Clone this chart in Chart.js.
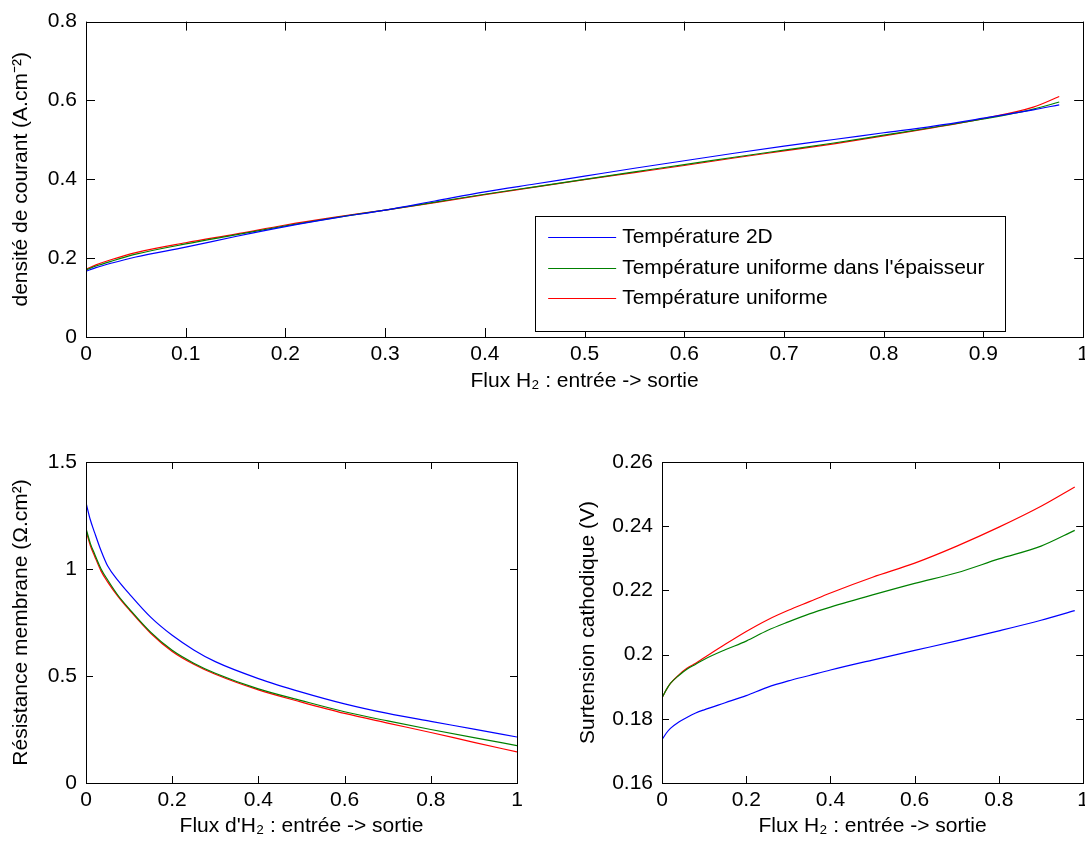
<!DOCTYPE html>
<html>
<head>
<meta charset="utf-8">
<script src="https://cdn.jsdelivr.net/npm/chart.js@4/dist/chart.umd.min.js"></script>
<style>
  html, body { margin: 0; padding: 0; background: #fff; overflow: hidden; }
  #page { position: relative; width: 1085px; height: 849px; overflow: hidden; }
  .panel { position: absolute; }
</style>
</head>
<body>
<div id="page">
  <div class="panel" style="left:0;top:0;width:1094px;height:400px"><canvas id="chartTop"></canvas></div>
  <div class="panel" style="left:0;top:430px;width:545px;height:419px"><canvas id="chartRes"></canvas></div>
  <div class="panel" style="left:545px;top:430px;width:549px;height:419px"><canvas id="chartSurt"></canvas></div>
</div>
<script>
// ---- densité de courant (haut) ----
const topX = [0, 0.01, 0.025, 0.05, 0.1, 0.15, 0.2, 0.25, 0.3, 0.35, 0.4, 0.45, 0.5, 0.55, 0.6, 0.65, 0.7, 0.75, 0.8, 0.85, 0.9, 0.95, 0.976];
const topBlue = [0.167, 0.176, 0.187, 0.203, 0.228, 0.255, 0.280, 0.302, 0.322, 0.345, 0.368, 0.388, 0.408, 0.428, 0.447, 0.466, 0.484, 0.501, 0.518, 0.535, 0.555, 0.576, 0.589];
const topGreen = [0.170, 0.180, 0.192, 0.210, 0.236, 0.259, 0.282, 0.303, 0.322, 0.342, 0.362, 0.381, 0.400, 0.419, 0.437, 0.456, 0.474, 0.492, 0.512, 0.532, 0.553, 0.578, 0.596];
const topRed = [0.172, 0.183, 0.196, 0.214, 0.239, 0.261, 0.284, 0.304, 0.322, 0.341, 0.361, 0.380, 0.399, 0.417, 0.435, 0.454, 0.472, 0.490, 0.510, 0.531, 0.554, 0.583, 0.610];
const topXTicks = [0, 0.1, 0.2, 0.3, 0.4, 0.5, 0.6, 0.7, 0.8, 0.9, 1];
const topXLabels = ['0', '0.1', '0.2', '0.3', '0.4', '0.5', '0.6', '0.7', '0.8', '0.9', '1'];
const topYTicks = [0, 0.2, 0.4, 0.6, 0.8];
const topYLabels = ['0', '0.2', '0.4', '0.6', '0.8'];

// ---- résistance membrane (bas gauche) ----
const resX = [0, 0.01, 0.02, 0.035, 0.05, 0.075, 0.1, 0.15, 0.2, 0.25, 0.3, 0.4, 0.5, 0.6, 0.7, 0.8, 0.9, 1.0];
const resBlue = [1.31, 1.23, 1.17, 1.085, 1.015, 0.945, 0.885, 0.775, 0.69, 0.622, 0.567, 0.488, 0.425, 0.37, 0.325, 0.288, 0.252, 0.215];
const resGreen = [1.19, 1.12, 1.07, 1.00, 0.95, 0.875, 0.815, 0.705, 0.62, 0.56, 0.513, 0.44, 0.385, 0.333, 0.29, 0.25, 0.212, 0.175];
const resRed = [1.18, 1.11, 1.06, 0.99, 0.94, 0.87, 0.81, 0.70, 0.615, 0.555, 0.508, 0.435, 0.378, 0.325, 0.28, 0.236, 0.19, 0.145];
const resXTicks = [0, 0.2, 0.4, 0.6, 0.8, 1];
const resXLabels = ['0', '0.2', '0.4', '0.6', '0.8', '1'];
const resYTicks = [0, 0.5, 1, 1.5];
const resYLabels = ['0', '0.5', '1', '1.5'];

// ---- surtension cathodique (bas droite) ----
const surtX = [0, 0.01, 0.02, 0.04, 0.06, 0.08, 0.1, 0.15, 0.2, 0.25, 0.3, 0.35, 0.4, 0.5, 0.6, 0.7, 0.8, 0.9, 0.98];
const surtBlue = [0.1735, 0.1755, 0.1770, 0.1790, 0.1805, 0.1818, 0.1828, 0.1850, 0.1872, 0.1898, 0.1918, 0.1935, 0.1952, 0.1983, 0.2013, 0.2043, 0.2074, 0.2107, 0.2137];
const surtGreen = [0.1865, 0.1890, 0.1910, 0.1935, 0.1955, 0.1970, 0.1985, 0.2015, 0.2042, 0.2075, 0.2102, 0.2127, 0.2148, 0.2186, 0.2222, 0.2255, 0.2298, 0.2338, 0.2387];
const surtRed = [0.1865, 0.1890, 0.1910, 0.1937, 0.1958, 0.1973, 0.1990, 0.2032, 0.2072, 0.2108, 0.2138, 0.2165, 0.2192, 0.2241, 0.2285, 0.2338, 0.2397, 0.2462, 0.2522];
const surtXTicks = [0, 0.2, 0.4, 0.6, 0.8, 1];
const surtXLabels = ['0', '0.2', '0.4', '0.6', '0.8', '1'];
const surtYTicks = [0.16, 0.18, 0.2, 0.22, 0.24, 0.26];
const surtYLabels = ['0.16', '0.18', '0.2', '0.22', '0.24', '0.26'];

const seriesNames = ['Température 2D', "Température uniforme dans l'épaisseur", 'Température uniforme'];
const seriesColors = ['#0000ff', '#008000', '#ff0000'];

const FONT = { family: '"Liberation Sans", Arial, sans-serif', size: 21 };
Chart.defaults.color = '#000';
Chart.defaults.font.family = FONT.family;
Chart.defaults.font.size = FONT.size;

// cadre + graduations vers l'intérieur, façon MATLAB
const matlabAxes = {
  id: 'matlabAxes',
  afterDatasetsDraw(chart, args, opts) {
    const { ctx, chartArea: a, scales: { x, y } } = chart;
    const L = opts.tickLength || 8;
    ctx.save();
    ctx.strokeStyle = '#000';
    ctx.lineWidth = 1;
    ctx.beginPath();
    x.ticks.forEach((t) => {
      const px = Math.round(x.getPixelForValue(t.value)) + 0.5;
      ctx.moveTo(px, a.bottom); ctx.lineTo(px, a.bottom - L);
      ctx.moveTo(px, a.top); ctx.lineTo(px, a.top + L);
    });
    y.ticks.forEach((t) => {
      const py = Math.round(y.getPixelForValue(t.value)) + 0.5;
      ctx.moveTo(a.left, py); ctx.lineTo(a.left + L, py);
      ctx.moveTo(a.right, py); ctx.lineTo(a.right - L, py);
    });
    ctx.stroke();
    ctx.strokeRect(Math.round(a.left) + 0.5, Math.round(a.top) + 0.5, Math.round(a.width), Math.round(a.height));
    ctx.restore();
  },
};

// légende encadrée dans la zone de tracé
const boxLegend = {
  id: 'boxLegend',
  afterDraw(chart, args, opts) {
    if (!opts.display) return;
    const { ctx, chartArea: a } = chart;
    const left = a.right - opts.right - opts.width;
    const top = a.bottom - opts.bottom - opts.height;
    ctx.save();
    ctx.fillStyle = '#fff';
    ctx.fillRect(left, top, opts.width, opts.height);
    ctx.strokeStyle = '#000';
    ctx.lineWidth = 1;
    ctx.strokeRect(Math.round(left) + 0.5, Math.round(top) + 0.5, opts.width, opts.height);
    ctx.font = `${FONT.size}px ${FONT.family}`;
    ctx.textBaseline = 'middle';
    chart.data.datasets.forEach((ds, i) => {
      const yy = Math.round(top + opts.firstRow + i * opts.rowGap) + 0.5;
      ctx.strokeStyle = ds.borderColor;
      ctx.beginPath();
      ctx.moveTo(left + 13, yy);
      ctx.lineTo(left + 81, yy);
      ctx.stroke();
      ctx.fillStyle = '#000';
      ctx.fillText(ds.label, left + 87, yy);
    });
    ctx.restore();
  },
};

function makeSeries(xs, ys) {
  return xs.map((v, i) => ({ x: v, y: ys[i] }));
}

function buildChart(id, cfg) {
  const datasets = cfg.series.map((ys, i) => ({
    label: seriesNames[i],
    data: makeSeries(cfg.xs, ys),
    borderColor: seriesColors[i],
    backgroundColor: seriesColors[i],
    borderWidth: 1.2,
    pointRadius: 0,
    cubicInterpolationMode: 'monotone',
  }));

  return new Chart(document.getElementById(id), {
    type: 'line',
    data: { datasets },
    plugins: [matlabAxes, boxLegend],
    options: {
      responsive: true,
      maintainAspectRatio: false,
      animation: false,
      events: [],
      layout: { padding: cfg.padding },
      plugins: {
        legend: { display: false },
        tooltip: { enabled: false },
        matlabAxes: { tickLength: cfg.tickLength },
        boxLegend: cfg.legend || { display: false },
      },
      scales: {
        x: {
          type: 'linear',
          min: cfg.xTicks[0],
          max: cfg.xTicks[cfg.xTicks.length - 1],
          grid: { display: false, drawTicks: false },
          border: { display: false },
          afterBuildTicks: (s) => { s.ticks = cfg.xTicks.map((v) => ({ value: v })); },
          afterFit: (s) => { s.height = cfg.xHeight; },
          ticks: {
            autoSkip: false,
            maxRotation: 0,
            padding: 5,
            callback: (v, i) => cfg.xLabels[i],
          },
          title: { display: true, text: cfg.xTitle, padding: { top: 0, bottom: 0 } },
        },
        y: {
          type: 'linear',
          min: cfg.yTicks[0],
          max: cfg.yTicks[cfg.yTicks.length - 1],
          grid: { display: false, drawTicks: false },
          border: { display: false },
          afterBuildTicks: (s) => { s.ticks = cfg.yTicks.map((v) => ({ value: v })); },
          afterFit: (s) => { s.width = cfg.yWidth; },
          ticks: {
            autoSkip: false,
            padding: 9,
            callback: (v, i) => cfg.yLabels[i],
          },
          title: { display: true, text: cfg.yTitle, padding: { top: cfg.yTitlePad, bottom: 0 } },
        },
      },
    },
  });
}

buildChart('chartTop', {
  xs: topX,
  series: [topBlue, topGreen, topRed],
  xTicks: topXTicks, xLabels: topXLabels,
  yTicks: topYTicks, yLabels: topYLabels,
  xTitle: 'Flux H\u2082 : entrée -> sortie',
  yTitle: 'densité de courant (A.cm\u207B\u00B2)',
  padding: { left: 0, top: 18, right: 2, bottom: 6 },
  xHeight: 57, yWidth: 86, yTitlePad: 9, tickLength: 9,
  legend: { display: true, width: 470, height: 115, right: 78, bottom: 6, firstRow: 21, rowGap: 30.5 },
});

buildChart('chartRes', {
  xs: resX,
  series: [resBlue, resGreen, resRed],
  xTicks: resXTicks, xLabels: resXLabels,
  yTicks: resYTicks, yLabels: resYLabels,
  xTitle: "Flux d'H\u2082 : entrée -> sortie",
  yTitle: 'Résistance membrane (\u03A9.cm\u00B2)',
  padding: { left: 0, top: 32, right: 28, bottom: 10 },
  xHeight: 56, yWidth: 86, yTitlePad: 9, tickLength: 7,
});

buildChart('chartSurt', {
  xs: surtX,
  series: [surtBlue, surtGreen, surtRed],
  xTicks: surtXTicks, xLabels: surtXLabels,
  yTicks: surtYTicks, yLabels: surtYLabels,
  xTitle: 'Flux H\u2082 : entrée -> sortie',
  yTitle: 'Surtension cathodique (V)',
  padding: { left: 31, top: 32, right: 2, bottom: 10 },
  xHeight: 56, yWidth: 86, yTitlePad: 0, tickLength: 7,
});
</script>
</body>
</html>
